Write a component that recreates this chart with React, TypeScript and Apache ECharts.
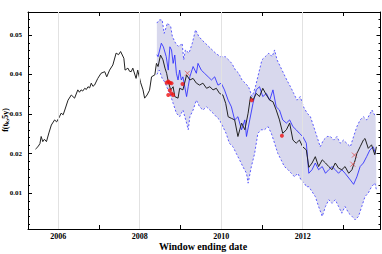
import React, { useEffect, useRef } from "react";
import * as echarts from "echarts";

// ---- data ----
const blackYears = [2005.44,2005.50,2005.55,2005.58,2005.62,2005.66,2005.71,2005.77,2005.83,2005.91,2005.96,2006.03,2006.07,2006.12,2006.16,2006.24,2006.32,2006.40,2006.48,2006.52,2006.56,2006.60,2006.65,2006.69,2006.73,2006.77,2006.81,2006.85,2006.89,2006.97,2007.05,2007.14,2007.19,2007.26,2007.34,2007.42,2007.48,2007.53,2007.61,2007.64,2007.71,2007.75,2007.79,2007.83,2007.91,2007.95,2008.02,2008.08,2008.12,2008.18,2008.24,2008.29,2008.37,2008.41,2008.45,2008.51,2008.57,2008.62,2008.66,2008.70,2008.76,2008.82,2008.86,2008.94,2008.98,2009.06,2009.15,2009.23,2009.31,2009.39,2009.47,2009.55,2009.64,2009.72,2009.80,2009.88,2009.96,2010.04,2010.11,2010.17,2010.25,2010.33,2010.41,2010.50,2010.58,2010.66,2010.72,2010.78,2010.86,2010.94,2011.02,2011.11,2011.19,2011.27,2011.35,2011.43,2011.51,2011.60,2011.68,2011.76,2011.84,2011.92,2012.00,2012.09,2012.15,2012.23,2012.31,2012.39,2012.48,2012.56,2012.64,2012.72,2012.80,2012.88,2012.96,2013.04,2013.13,2013.21,2013.29,2013.33,2013.41,2013.49,2013.53,2013.61,2013.69,2013.77,2013.81];
const blackValues = [0.0211,0.0217,0.0225,0.0243,0.0230,0.0236,0.0230,0.0252,0.0272,0.0285,0.0280,0.0293,0.0302,0.0298,0.0310,0.0335,0.0348,0.0340,0.0361,0.0355,0.0361,0.0358,0.0365,0.0362,0.0369,0.0366,0.0378,0.0370,0.0373,0.0390,0.0403,0.0407,0.0394,0.0411,0.0424,0.0454,0.0450,0.0458,0.0441,0.0411,0.0416,0.0408,0.0407,0.0416,0.0390,0.0411,0.0380,0.0361,0.0340,0.0348,0.0360,0.0394,0.0399,0.0428,0.0420,0.0449,0.0437,0.0416,0.0403,0.0382,0.0361,0.0369,0.0344,0.0340,0.0365,0.0361,0.0399,0.0386,0.0390,0.0378,0.0373,0.0378,0.0365,0.0369,0.0361,0.0365,0.0352,0.0348,0.0327,0.0293,0.0289,0.0285,0.0243,0.0277,0.0260,0.0302,0.0344,0.0335,0.0352,0.0344,0.0365,0.0348,0.0335,0.0331,0.0310,0.0285,0.0251,0.0260,0.0277,0.0234,0.0226,0.0234,0.0217,0.0209,0.0165,0.0176,0.0192,0.0167,0.0184,0.0176,0.0167,0.0159,0.0176,0.0163,0.0159,0.0167,0.0150,0.0159,0.0184,0.0200,0.0217,0.0234,0.0238,0.0213,0.0222,0.0197,0.0217];

const blueYears = [2008.42,2008.45,2008.53,2008.58,2008.65,2008.70,2008.74,2008.78,2008.82,2008.86,2008.90,2008.94,2008.98,2009.02,2009.06,2009.15,2009.19,2009.23,2009.31,2009.39,2009.43,2009.51,2009.59,2009.68,2009.76,2009.84,2009.92,2010.00,2010.08,2010.17,2010.25,2010.33,2010.41,2010.50,2010.58,2010.62,2010.70,2010.78,2010.86,2010.94,2011.02,2011.11,2011.19,2011.27,2011.35,2011.43,2011.51,2011.60,2011.68,2011.76,2011.84,2011.92,2012.00,2012.09,2012.15,2012.23,2012.31,2012.39,2012.48,2012.56,2012.64,2012.72,2012.80,2012.88,2012.96,2013.04,2013.17,2013.25,2013.33,2013.41,2013.49,2013.57,2013.65,2013.73,2013.79];
const blueValues = [0.0450,0.0445,0.0479,0.0470,0.0445,0.0411,0.0470,0.0462,0.0428,0.0449,0.0403,0.0386,0.0411,0.0386,0.0394,0.0344,0.0369,0.0394,0.0420,0.0403,0.0428,0.0411,0.0403,0.0394,0.0386,0.0394,0.0373,0.0378,0.0361,0.0335,0.0318,0.0285,0.0293,0.0260,0.0285,0.0243,0.0285,0.0327,0.0361,0.0369,0.0344,0.0352,0.0335,0.0361,0.0318,0.0310,0.0285,0.0277,0.0285,0.0268,0.0260,0.0251,0.0243,0.0226,0.0150,0.0159,0.0176,0.0159,0.0167,0.0150,0.0159,0.0167,0.0159,0.0150,0.0159,0.0150,0.0133,0.0122,0.0141,0.0167,0.0176,0.0192,0.0209,0.0217,0.0200];

const upperYears = [2008.42,2008.48,2008.55,2008.60,2008.68,2008.76,2008.80,2008.88,2008.96,2009.04,2009.08,2009.12,2009.21,2009.29,2009.37,2009.45,2009.53,2009.61,2009.70,2009.78,2009.86,2009.98,2010.10,2010.18,2010.26,2010.35,2010.43,2010.51,2010.59,2010.67,2010.76,2010.84,2010.92,2011.00,2011.08,2011.17,2011.25,2011.31,2011.37,2011.45,2011.53,2011.61,2011.70,2011.78,2011.86,2011.94,2012.02,2012.11,2012.19,2012.27,2012.35,2012.43,2012.51,2012.60,2012.68,2012.76,2012.84,2012.92,2013.00,2013.08,2013.17,2013.25,2013.33,2013.41,2013.49,2013.57,2013.66,2013.70,2013.79];
const upperValues = [0.0530,0.0538,0.0538,0.0504,0.0530,0.0521,0.0496,0.0479,0.0470,0.0479,0.0437,0.0462,0.0454,0.0479,0.0513,0.0496,0.0487,0.0479,0.0470,0.0462,0.0454,0.0445,0.0445,0.0437,0.0428,0.0411,0.0403,0.0386,0.0378,0.0369,0.0344,0.0369,0.0403,0.0437,0.0445,0.0454,0.0445,0.0462,0.0437,0.0420,0.0403,0.0386,0.0369,0.0352,0.0335,0.0344,0.0318,0.0302,0.0293,0.0268,0.0243,0.0217,0.0234,0.0243,0.0243,0.0234,0.0243,0.0226,0.0234,0.0226,0.0217,0.0243,0.0268,0.0285,0.0293,0.0285,0.0302,0.0310,0.0293];

const lowerYears = [2008.42,2008.48,2008.55,2008.62,2008.66,2008.74,2008.82,2008.90,2008.98,2009.06,2009.15,2009.19,2009.23,2009.31,2009.39,2009.47,2009.55,2009.64,2009.72,2009.80,2009.88,2009.96,2010.04,2010.12,2010.20,2010.29,2010.37,2010.45,2010.53,2010.62,2010.66,2010.74,2010.82,2010.90,2010.98,2011.06,2011.15,2011.23,2011.31,2011.39,2011.47,2011.55,2011.64,2011.72,2011.80,2011.88,2011.96,2012.04,2012.09,2012.15,2012.31,2012.39,2012.48,2012.56,2012.64,2012.72,2012.80,2012.88,2012.96,2013.04,2013.13,2013.21,2013.29,2013.37,2013.45,2013.53,2013.61,2013.69,2013.77,2013.81];
const lowerValues = [0.0400,0.0411,0.0390,0.0380,0.0369,0.0352,0.0327,0.0302,0.0293,0.0310,0.0277,0.0260,0.0293,0.0310,0.0335,0.0318,0.0310,0.0318,0.0310,0.0302,0.0293,0.0285,0.0268,0.0251,0.0226,0.0217,0.0200,0.0184,0.0167,0.0150,0.0125,0.0167,0.0200,0.0251,0.0260,0.0260,0.0268,0.0251,0.0226,0.0200,0.0184,0.0167,0.0159,0.0150,0.0141,0.0150,0.0133,0.0125,0.0116,0.0116,0.0091,0.0066,0.0041,0.0066,0.0083,0.0074,0.0083,0.0066,0.0049,0.0066,0.0049,0.0041,0.0032,0.0041,0.0066,0.0091,0.0100,0.0116,0.0125,0.0108];

const redDotYears = [2008.66,2008.70,2008.74,2008.78,2008.70,2008.74,2008.78,2008.82,2009.05,2010.75,2011.49];
const redDotValues = [0.0379,0.0382,0.0379,0.0378,0.0348,0.0360,0.0352,0.0348,0.0376,0.0335,0.0245];
const redCrossYears = [2009.17,2013.27,2013.23];
const redCrossValues = [0.0403,0.0196,0.0173];

const xTickYears = [2006,2007,2008,2009,2010,2011,2012,2013];
const xLabelYears = [2006,2008,2010,2012];
const gridYears = [2006,2008,2010,2012];
const yMajorTicks = [0.01,0.02,0.03,0.04,0.05];
const yMinorTicks = [0.002,0.004,0.006,0.008,0.012,0.014,0.016,0.018,0.022,0.024,0.026,0.028,0.032,0.034,0.036,0.038,0.042,0.044,0.046,0.048,0.052,0.054];

const xAxisTitle = "Window ending date";
const yAxisTitle = "f(tₖ,5y)";

const X_MIN = 2005.257, X_MAX = 2013.91;
const Y_MIN = 0.0009, Y_MAX = 0.0558;

const zip = (xs: number[], ys: number[]) => xs.map((x, i) => [x, ys[i]]);

const FONT = "Liberation Serif";

export default function App() {
  const ref = useRef<HTMLDivElement>(null);
  useEffect(() => {
    if (!ref.current) return;
    const chart = echarts.init(ref.current, undefined, { renderer: "svg" });
    const baseX = {
      type: "value", min: X_MIN, max: X_MAX, splitLine: { show: false },
      axisLine: { show: true, onZero: false, lineStyle: { color: "#000", width: 1 } },
    };
    const baseY = {
      type: "value", min: Y_MIN, max: Y_MAX, splitLine: { show: false },
      axisLine: { show: false, onZero: false },
    };
    const option: any = {
      animation: false,
      backgroundColor: "#fff",
      grid: { left: 28, right: 1.5, top: 12, bottom: 25, containLabel: false, outerBoundsMode: "none" },
      graphic: [
        {
          type: "text", x: 203, y: 246.5,
          style: { text: xAxisTitle, fontFamily: FONT, fontWeight: "bold", fontSize: 10, fill: "#000", textAlign: "center", textVerticalAlign: "middle" },
        },
        {
          type: "text", x: 5.5, y: 120, rotation: Math.PI / 2,
          style: { text: yAxisTitle, fontFamily: FONT, fontWeight: "bold", fontSize: 8, fill: "#000", textAlign: "center", textVerticalAlign: "middle" },
        },
      ],
      xAxis: [
        {
          ...baseX, position: "bottom",
          axisTick: { show: true, inside: true, length: 4, customValues: xTickYears, lineStyle: { color: "#000" } },
          axisLabel: { show: true, customValues: xLabelYears, formatter: (v: number) => String(Math.round(v)), fontFamily: FONT, fontWeight: "bold", fontSize: 8, color: "#000", margin: 3 },
        },
        {
          ...baseX, position: "top",
          axisTick: { show: true, inside: true, length: 4, customValues: xTickYears, lineStyle: { color: "#000" } },
          axisLabel: { show: false },
        },
      ],
      yAxis: [
        {
          ...baseY, position: "left",
          axisLine: { show: true, onZero: false, lineStyle: { color: "#000", width: 1 } },
          axisTick: { show: true, inside: true, length: 4, customValues: yMajorTicks, lineStyle: { color: "#000" } },
          axisLabel: { show: true, customValues: yMajorTicks, formatter: (v: number) => v.toFixed(2), fontFamily: FONT, fontWeight: "bold", fontSize: 7, color: "#000", margin: 6 },
        },
        {
          ...baseY, position: "left",
          axisTick: { show: true, inside: true, length: 2, customValues: yMinorTicks, lineStyle: { color: "#000" } },
          axisLabel: { show: false },
        },
        {
          ...baseY, position: "right",
          axisLine: { show: true, onZero: false, lineStyle: { color: "#000", width: 1 } },
          axisTick: { show: true, inside: true, length: 4, customValues: yMajorTicks, lineStyle: { color: "#000" } },
          axisLabel: { show: false },
        },
        {
          ...baseY, position: "right",
          axisTick: { show: true, inside: true, length: 2, customValues: yMinorTicks, lineStyle: { color: "#000" } },
          axisLabel: { show: false },
        },
      ],
      series: [
        {
          type: "line", name: "grid", z: 0, silent: true,
          data: [[blackYears[0], blackValues[0]]], showSymbol: false,
          lineStyle: { opacity: 0 },
          markLine: {
            silent: true, symbol: ["none", "none"], label: { show: false },
            lineStyle: { color: "#e2e2e2", type: "solid", width: 1 },
            data: gridYears.map((v) => ({ xAxis: v })),
          },
        },
        {
          type: "custom", name: "band", z: 1, silent: true, clip: true,
          data: [[upperYears[0], upperValues[0]]],
          renderItem: (_params: any, api: any) => {
            const pts: number[][] = [];
            for (let i = 0; i < upperYears.length; i++) pts.push(api.coord([upperYears[i], upperValues[i]]));
            for (let i = lowerYears.length - 1; i >= 0; i--) pts.push(api.coord([lowerYears[i], lowerValues[i]]));
            return { type: "polygon", shape: { points: pts }, style: { fill: "#d8d8ed", stroke: "none" } };
          },
        },
        {
          type: "line", name: "upper", z: 2, data: zip(upperYears, upperValues), showSymbol: false,
          lineStyle: { color: "#5a5aff", width: 1, type: [2, 2] },
        },
        {
          type: "line", name: "lower", z: 2, data: zip(lowerYears, lowerValues), showSymbol: false,
          lineStyle: { color: "#5a5aff", width: 1, type: [2, 2] },
        },
        {
          type: "line", name: "blue", z: 3, data: zip(blueYears, blueValues), showSymbol: false,
          lineStyle: { color: "#2b2bff", width: 1, opacity: 0.85 },
        },
        {
          type: "line", name: "black", z: 4, data: zip(blackYears, blackValues), showSymbol: false,
          lineStyle: { color: "#222", width: 1 },
        },
        {
          type: "scatter", name: "reddots", z: 5, data: zip(redDotYears, redDotValues),
          symbol: "circle", symbolSize: 4, itemStyle: { color: "#ee1111" },
        },
        {
          type: "scatter", name: "redcross", z: 5, data: zip(redCrossYears, redCrossValues),
          symbol: "path://M0,0L10,10M10,0L0,10", symbolSize: 5,
          itemStyle: { color: "none", borderColor: "#e05555", borderWidth: 1 },
        },
      ],
    };
    chart.setOption(option);
    return () => chart.dispose();
  }, []);
  return <div ref={ref} style={{ position: "fixed", left: 0, top: 0, width: 382, height: 254 }} />;
}
